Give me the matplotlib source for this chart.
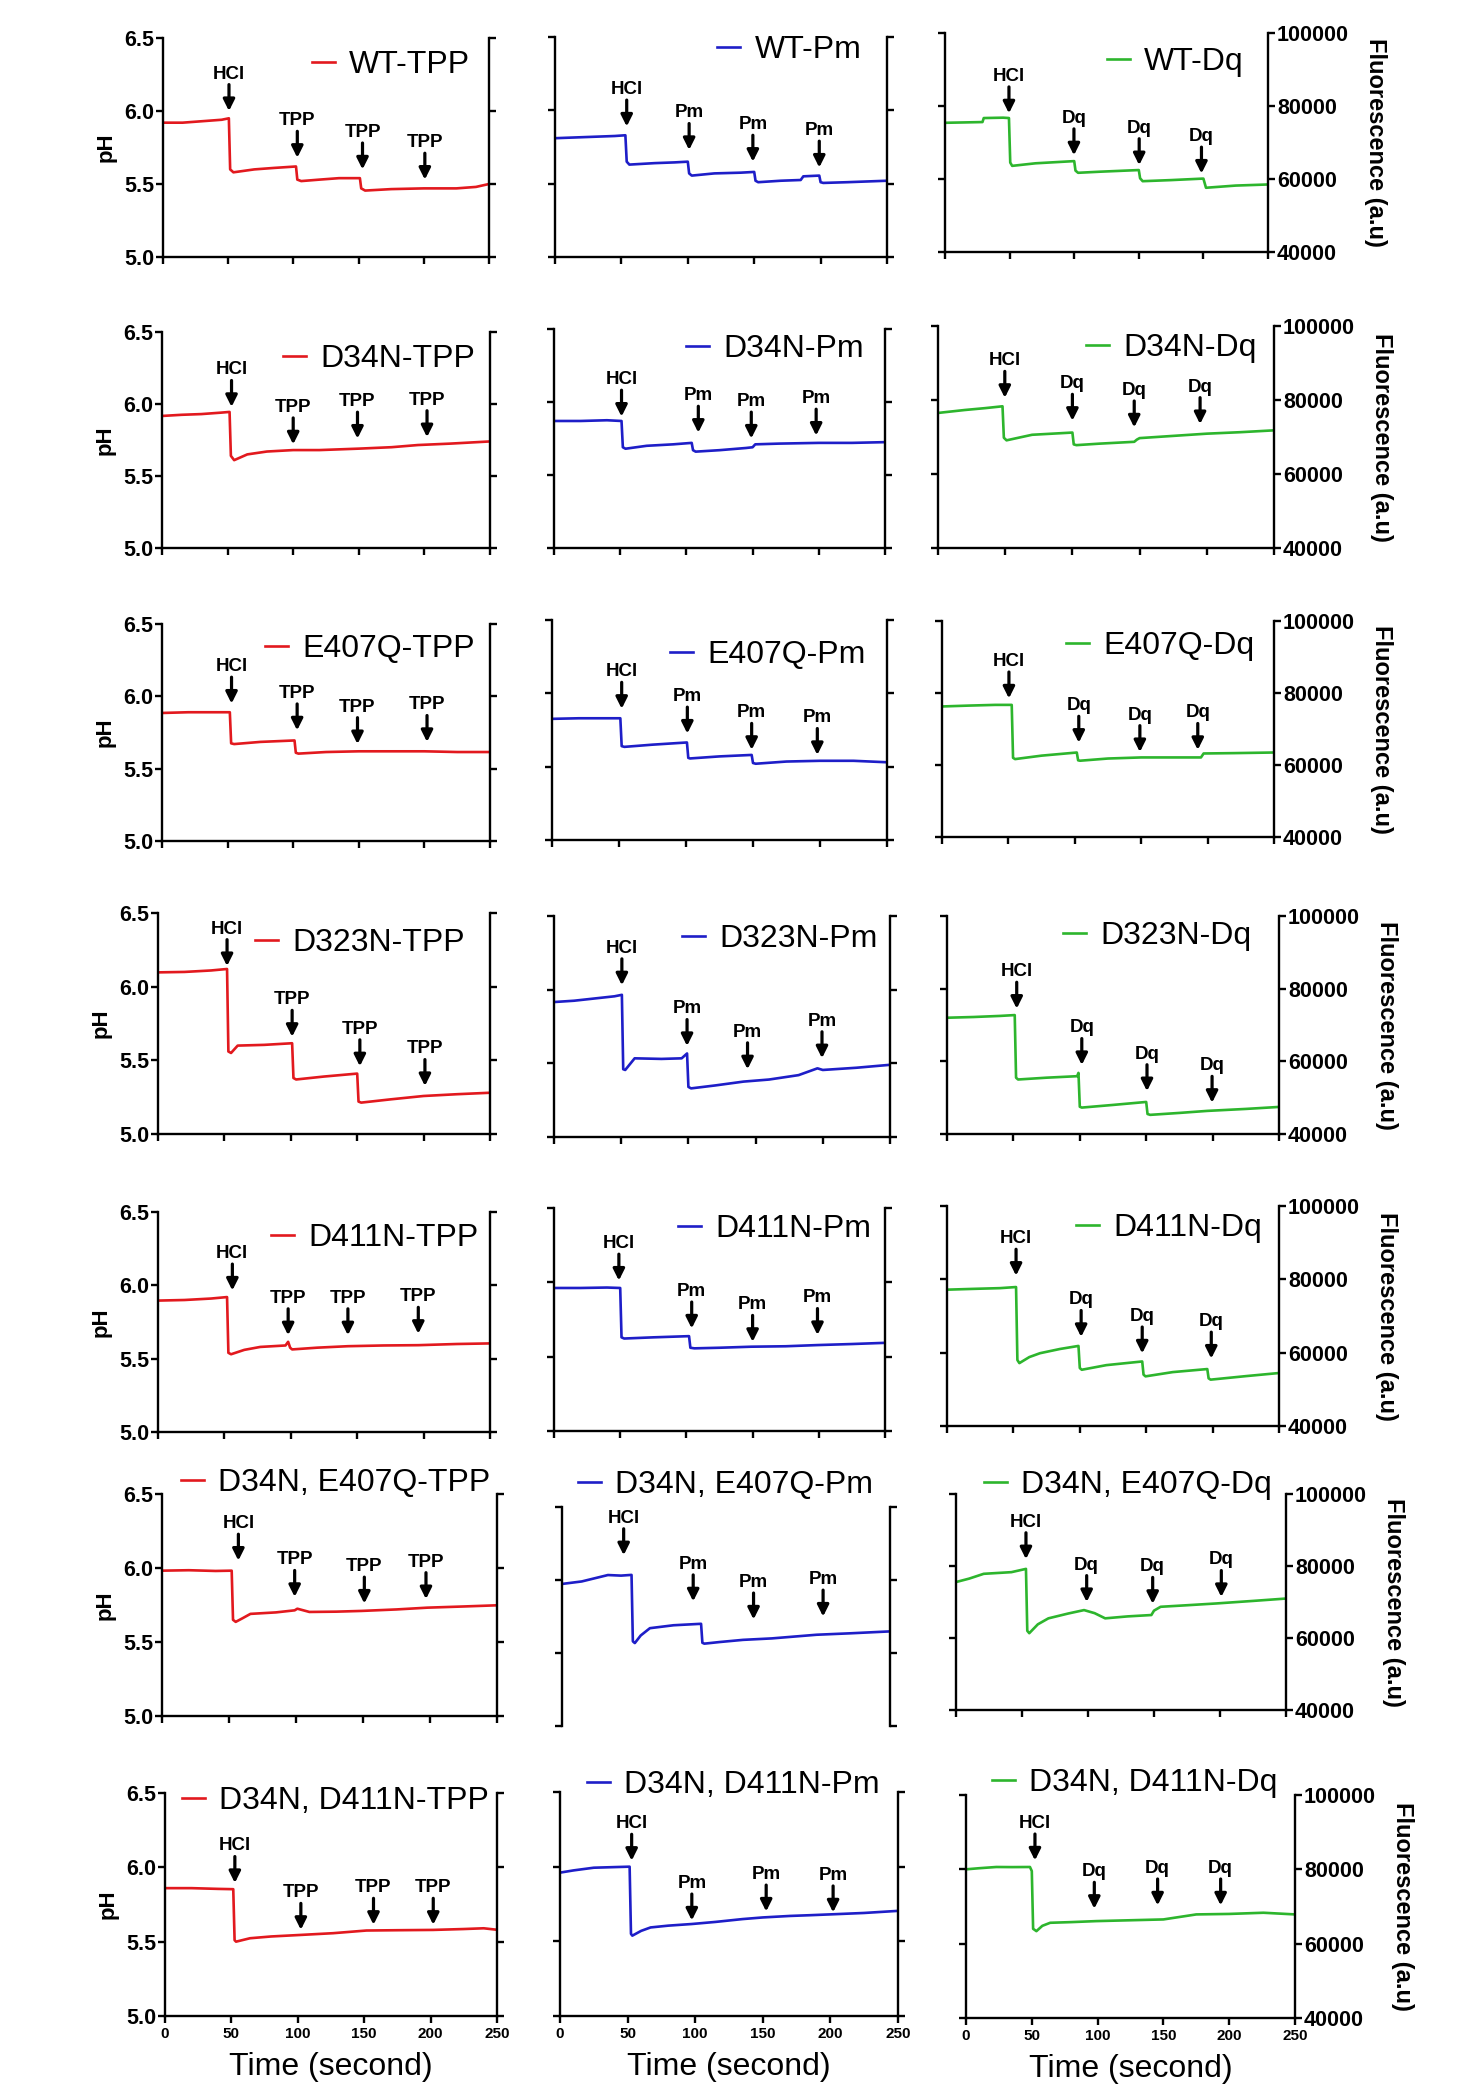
import matplotlib
matplotlib.use('Agg')
import matplotlib.pyplot as plt
from matplotlib.ticker import FormatStrFormatter

plt.rcParams['font.family'] = ['Liberation Sans', 'DejaVu Sans']

# ---------------- data ----------------
time_ticks = [0, 50, 100, 150, 200, 250]
ph_ticks = [5.0, 5.5, 6.0, 6.5]
fl_ticks = [40000, 60000, 80000, 100000]

# Row 1: WT
t_wt_tpp = [0, 15, 30, 45, 50.5, 51.5, 54, 70, 85, 102, 103, 106, 120, 135, 151, 152, 155, 175, 200, 225, 240, 250]
v_wt_tpp = [5.92, 5.92, 5.93, 5.94, 5.95, 5.60, 5.58, 5.60, 5.61, 5.62, 5.53, 5.52, 5.53, 5.54, 5.54, 5.47, 5.455, 5.465, 5.47, 5.47, 5.48, 5.50]
t_wt_pm = [0, 15, 30, 45, 53, 54, 56, 75, 90, 100, 101, 103, 120, 140, 150, 151, 153, 170, 185, 187, 199, 200, 202, 220, 250]
v_wt_pm = [5.81, 5.815, 5.82, 5.825, 5.83, 5.65, 5.63, 5.64, 5.645, 5.65, 5.57, 5.555, 5.57, 5.575, 5.58, 5.52, 5.51, 5.52, 5.525, 5.55, 5.555, 5.51, 5.505, 5.51, 5.52]
t_wt_dq = [0, 15, 29, 30, 45, 49.5, 50.5, 52, 70, 90, 100, 101, 103, 120, 140, 150, 151, 153, 175, 199, 200, 202, 225, 250]
v_wt_dq = [75400, 75500, 75600, 76700, 76800, 76700, 64500, 63600, 64300, 64700, 64900, 62300, 61700, 62000, 62300, 62450, 60200, 59400, 59700, 60100, 60100, 57600, 58200, 58500]

# Row 2: D34N
t_d34n_tpp = [0, 15, 30, 45, 51.5, 52.5, 55, 65, 80, 100, 120, 150, 175, 195, 220, 250]
v_d34n_tpp = [5.917, 5.925, 5.93, 5.94, 5.945, 5.64, 5.61, 5.65, 5.67, 5.68, 5.68, 5.69, 5.70, 5.715, 5.725, 5.74]
t_d34n_pm = [0, 20, 40, 51, 52, 54, 70, 90, 104, 105, 107, 125, 145, 150, 152, 170, 200, 225, 250]
v_d34n_pm = [5.87, 5.87, 5.875, 5.87, 5.69, 5.68, 5.70, 5.71, 5.72, 5.67, 5.66, 5.67, 5.685, 5.69, 5.71, 5.715, 5.72, 5.72, 5.725]
t_d34n_dq = [0, 20, 35, 48, 49, 51, 70, 90, 100, 101, 103, 120, 146, 148, 150, 175, 200, 225, 250]
v_d34n_dq = [76500, 77300, 77800, 78300, 69800, 69100, 70600, 71000, 71200, 68000, 67800, 68200, 68700, 69300, 69700, 70300, 70900, 71300, 71800]

# Row 3: E407Q
t_e407q_tpp = [0, 20, 40, 51.7, 52.7, 55, 75, 101, 102, 104, 125, 150, 175, 200, 225, 250]
v_e407q_tpp = [5.885, 5.89, 5.89, 5.89, 5.675, 5.67, 5.685, 5.695, 5.61, 5.604, 5.615, 5.62, 5.62, 5.62, 5.615, 5.615]
t_e407q_pm = [0, 20, 40, 51, 52, 54, 75, 100.7, 101.7, 103, 125, 149, 150, 152, 175, 200, 225, 250]
v_e407q_pm = [5.826, 5.83, 5.83, 5.83, 5.64, 5.635, 5.65, 5.665, 5.56, 5.556, 5.57, 5.58, 5.525, 5.52, 5.535, 5.54, 5.54, 5.53]
t_e407q_dq = [0, 20, 40, 52.5, 53.5, 55, 75, 101.5, 102.5, 104, 125, 150, 175, 195, 197, 220, 250]
v_e407q_dq = [76260, 76500, 76700, 76700, 62000, 61640, 62600, 63470, 61300, 61190, 61800, 62100, 62100, 62100, 63200, 63300, 63470]

# Row 4: D323N
t_d323n_tpp = [0, 20, 40, 52, 53, 55, 60, 80, 101, 102, 104, 125, 150, 151, 153, 175, 200, 225, 250]
v_d323n_tpp = [6.097, 6.10, 6.11, 6.12, 5.56, 5.55, 5.60, 5.605, 5.616, 5.38, 5.37, 5.39, 5.41, 5.22, 5.213, 5.235, 5.258, 5.27, 5.28]
t_d323n_pm = [0, 15, 30, 45, 50.5, 51.5, 53, 60, 80, 95, 99, 100, 102, 120, 141, 160, 182, 196, 200, 225, 250]
v_d323n_pm = [5.916, 5.925, 5.94, 5.955, 5.965, 5.46, 5.455, 5.534, 5.53, 5.534, 5.567, 5.34, 5.33, 5.35, 5.376, 5.39, 5.42, 5.466, 5.455, 5.47, 5.49]
t_d323n_dq = [0, 20, 40, 51, 52, 53.5, 75, 98, 99, 100, 101.5, 125, 150, 151, 153, 175, 196, 225, 250]
v_d323n_dq = [72000, 72200, 72500, 72730, 55500, 55000, 55500, 55910, 56820, 47500, 47270, 48000, 48820, 45500, 45270, 45800, 46360, 46900, 47450]

# Row 5: D411N
t_d411n_tpp = [0, 20, 40, 52, 53, 55, 65, 77, 96, 98, 99.5, 101, 120, 143, 170, 196, 225, 250]
v_d411n_tpp = [5.896, 5.90, 5.91, 5.92, 5.54, 5.53, 5.56, 5.58, 5.59, 5.615, 5.575, 5.563, 5.575, 5.585, 5.59, 5.592, 5.60, 5.604]
t_d411n_pm = [0, 20, 40, 50, 51, 53, 75, 102, 103, 106, 125, 149, 175, 199, 225, 250]
v_d411n_pm = [5.962, 5.962, 5.965, 5.962, 5.63, 5.622, 5.63, 5.638, 5.56, 5.556, 5.56, 5.567, 5.57, 5.578, 5.585, 5.593]
t_d411n_dq = [0, 20, 40, 52, 53, 54.5, 62, 70, 85, 99, 100, 101.5, 120, 147, 148, 149.5, 170, 196, 197, 198.5, 225, 250]
v_d411n_dq = [77180, 77400, 77600, 77900, 58000, 57150, 58800, 59850, 61000, 61840, 55800, 55340, 56600, 57600, 54000, 53540, 54700, 55530, 53000, 52640, 53600, 54450]

# Row 6: D34N, E407Q
t_de_tpp = [0, 20, 40, 52, 53, 55, 60, 66, 85, 99, 101, 110, 130, 149, 175, 198, 225, 250]
v_de_tpp = [5.982, 5.985, 5.98, 5.982, 5.65, 5.636, 5.66, 5.69, 5.70, 5.714, 5.725, 5.703, 5.705, 5.71, 5.72, 5.732, 5.74, 5.748]
t_de_pm = [0, 15, 35, 45, 53, 54, 55.5, 60, 67, 85, 106, 107, 108.5, 120, 138, 160, 194, 220, 250]
v_de_pm = [5.973, 5.99, 6.034, 6.03, 6.035, 5.58, 5.568, 5.62, 5.67, 5.69, 5.70, 5.57, 5.564, 5.575, 5.59, 5.60, 5.625, 5.635, 5.648]
t_de_dq = [0, 10, 21, 42, 53, 54, 55.5, 62, 70, 85, 97, 105, 113, 130, 148, 150, 155, 175, 197, 225, 250]
v_de_dq = [75540, 76500, 77830, 78290, 79200, 62000, 61340, 63800, 65460, 66800, 67750, 66900, 65460, 66000, 66380, 67600, 68670, 69100, 69590, 70300, 70960]

# Row 7: D34N, D411N
t_dd_tpp = [0, 20, 40, 51.4, 52.4, 53.5, 64, 80, 101.5, 126.6, 151.7, 175, 201.8, 225, 240, 250]
v_dd_tpp = [5.86, 5.86, 5.855, 5.853, 5.51, 5.50, 5.523, 5.535, 5.545, 5.557, 5.575, 5.577, 5.579, 5.585, 5.59, 5.58]
t_dd_pm = [0, 10, 25, 40, 51.5, 52.5, 53.5, 60, 67, 80, 97.5, 115, 135, 150, 170, 185, 204, 225, 250]
v_dd_pm = [5.96, 5.975, 5.993, 5.997, 6.0, 5.55, 5.538, 5.57, 5.593, 5.605, 5.616, 5.63, 5.649, 5.66, 5.67, 5.675, 5.682, 5.69, 5.704]
t_dd_dq = [0, 10, 23, 35, 48.6, 50, 51, 53.5, 58, 64, 80, 99, 125, 150, 175, 200, 226, 250]
v_dd_dq = [80000, 80300, 80630, 80600, 80630, 79540, 64000, 63370, 64800, 65620, 65800, 66070, 66300, 66520, 67870, 68000, 68320, 67870]

# legend names
names = [
    ["WT-TPP", "WT-Pm", "WT-Dq"],
    ["D34N-TPP", "D34N-Pm", "D34N-Dq"],
    ["E407Q-TPP", "E407Q-Pm", "E407Q-Dq"],
    ["D323N-TPP", "D323N-Pm", "D323N-Dq"],
    ["D411N-TPP", "D411N-Pm", "D411N-Dq"],
    ["D34N, E407Q-TPP", "D34N, E407Q-Pm", "D34N, E407Q-Dq"],
    ["D34N, D411N-TPP", "D34N, D411N-Pm", "D34N, D411N-Dq"],
]
traces = [
    [(t_wt_tpp, v_wt_tpp), (t_wt_pm, v_wt_pm), (t_wt_dq, v_wt_dq)],
    [(t_d34n_tpp, v_d34n_tpp), (t_d34n_pm, v_d34n_pm), (t_d34n_dq, v_d34n_dq)],
    [(t_e407q_tpp, v_e407q_tpp), (t_e407q_pm, v_e407q_pm), (t_e407q_dq, v_e407q_dq)],
    [(t_d323n_tpp, v_d323n_tpp), (t_d323n_pm, v_d323n_pm), (t_d323n_dq, v_d323n_dq)],
    [(t_d411n_tpp, v_d411n_tpp), (t_d411n_pm, v_d411n_pm), (t_d411n_dq, v_d411n_dq)],
    [(t_de_tpp, v_de_tpp), (t_de_pm, v_de_pm), (t_de_dq, v_de_dq)],
    [(t_dd_tpp, v_dd_tpp), (t_dd_pm, v_dd_pm), (t_dd_dq, v_dd_dq)],
]

# addition times and arrow tip levels: HCl first, then 3 reagent additions
reagents = ["TPP", "Pm", "Dq"]
add_times = [
    [[50.6, 103, 153, 200.8], [54, 101, 149, 199], [49.5, 99.8, 150.3, 198.5]],
    [[53, 100, 149, 202], [51, 109, 149, 198], [49.7, 100, 146, 195]],
    [[53, 103, 149, 202], [52, 101, 149, 198], [50.4, 103, 149, 192.6]],
    [[52, 101, 152, 201], [50.5, 99, 144, 199.4], [52.5, 101.5, 150.6, 199.6]],
    [[56, 98, 143, 196], [49, 104, 150, 199], [52, 101, 147, 199]],
    [[57, 99, 151, 197], [47, 100, 146, 199], [53, 99, 149, 201]],
    [[52.6, 102.3, 157, 202], [53, 97.5, 152.5, 202], [52.4, 97.5, 145.6, 193.5]],
]
add_tips = [
    [[6.00, 5.68, 5.60, 5.53], [5.89, 5.73, 5.65, 5.61], [78000, 66500, 63800, 61500]],
    [[5.98, 5.72, 5.76, 5.77], [5.90, 5.79, 5.75, 5.77], [80600, 74400, 72600, 73500]],
    [[5.95, 5.765, 5.67, 5.685], [5.895, 5.726, 5.615, 5.58], [78500, 66200, 63600, 64200]],
    [[6.14, 5.66, 5.46, 5.326], [6.03, 5.618, 5.46, 5.535], [74500, 59000, 51800, 48600]],
    [[5.965, 5.66, 5.66, 5.67], [6.012, 5.69, 5.60, 5.646], [81000, 64300, 59800, 58400]],
    [[6.05, 5.805, 5.76, 5.79], [6.17, 5.854, 5.73, 5.75], [81900, 70000, 69500, 71400]],
    [[5.895, 5.58, 5.614, 5.614], [6.04, 5.64, 5.70, 5.694], [82400, 69400, 70300, 70300]],
]

# ---------------- layout (pixel boxes: x0, x1, ytop, ybottom) ----------------
W, H = 1463, 2087
boxes = [
    [(163, 489, 38, 257), (555, 887, 37, 257), (945, 1268, 33, 252)],
    [(162, 490, 332, 548), (554, 885, 329, 548), (938, 1274, 326, 548)],
    [(162, 490, 624, 841), (552, 887, 620, 840), (942, 1274, 621, 837)],
    [(158, 490, 913, 1134), (554, 890, 916, 1137), (947, 1279, 916, 1134)],
    [(158, 490, 1212, 1432), (554, 885, 1208, 1431), (947, 1279, 1206, 1426)],
    [(162, 497, 1494, 1716), (562, 890, 1507, 1726), (956, 1286, 1494, 1710)],
    [(165, 497, 1793, 2016), (560, 898, 1792, 2016), (966, 1295, 1795, 2018)],
]
legend_pos = [
    [(0.457, 0.877), (0.488, 0.94), (0.50, 0.868)],
    [(0.369, 0.875), (0.40, 0.91), (0.44, 0.90)],
    [(0.314, 0.885), (0.352, 0.84), (0.373, 0.884)],
    [(0.292, 0.864), (0.381, 0.896), (0.35, 0.908)],
    [(0.34, 0.88), (0.375, 0.906), (0.39, 0.90)],
    [(0.057, 1.05), (0.049, 1.10), (0.085, 1.04)],
    [(0.05, 0.964), (0.08, 1.03), (0.079, 1.054)],
]
colors = ['#e2191e', '#1e1ec8', '#2db52d']

ARROW_LEN = 19.0   # points
GAP = 1.5

fig = plt.figure(figsize=(W / 100, H / 100), dpi=100)

for r in range(7):
    for c in range(3):
        x0, x1, y0, y1 = boxes[r][c]
        ax = fig.add_axes([x0 / W, 1 - y1 / H, (x1 - x0) / W, (y1 - y0) / H])
        t, v = traces[r][c]
        ax.plot(t, v, color=colors[c], lw=1.9, label=names[r][c])
        ax.set_xlim(0, 250)
        ax.set_xticks(time_ticks)
        if c < 2:
            ax.set_ylim(5.0, 6.5)
            ax.set_yticks(ph_ticks)
            ax.yaxis.set_major_formatter(FormatStrFormatter('%.1f'))
        else:
            ax.set_ylim(40000, 100000)
            ax.set_yticks(fl_ticks)
            ax.set_yticklabels([str(f) for f in fl_ticks])
        for s in ['left', 'right', 'bottom']:
            ax.spines[s].set_linewidth(1.7)
        ax.spines['top'].set_visible(False)
        ax.tick_params(axis='both', direction='out', length=5, width=1.7)
        ax.tick_params(axis='y', left=True, right=True,
                       labelleft=(c == 0), labelright=(c == 2),
                       labelsize=15.5, pad=1.5)
        for lab in ax.get_yticklabels():
            lab.set_fontweight('bold')
        if c == 2:
            ax.yaxis.set_label_position('right')
            ax.set_ylabel('Fluorescence (a.u)', rotation=270, fontsize=17,
                          fontweight='bold', labelpad=27)
        if c == 0:
            ax.set_ylabel('pH', fontsize=16, fontweight='bold', labelpad=5)
        if r == 6:
            ax.tick_params(axis='x', labelbottom=True, labelsize=11, pad=3)
            for lab in ax.get_xticklabels():
                lab.set_fontweight('bold')
            ax.set_xlabel('Time (second)', fontsize=23, labelpad=8)
        else:
            ax.tick_params(axis='x', labelbottom=False)
        if r == 5 and c == 1:
            ax.spines['bottom'].set_visible(False)
            ax.tick_params(axis='x', bottom=False)

        # additions
        labels = ["HCl"] + [reagents[c]] * 3
        for lab, ta, tip in zip(labels, add_times[r][c], add_tips[r][c]):
            ax.annotate('', xy=(ta, tip), xytext=(0, ARROW_LEN), textcoords='offset points',
                        arrowprops=dict(arrowstyle='-|>', color='black', lw=2.3,
                                        mutation_scale=17, shrinkA=0, shrinkB=0),
                        annotation_clip=False)
            ax.annotate(lab, xy=(ta, tip), xytext=(0, ARROW_LEN + GAP),
                        textcoords='offset points', ha='center', va='bottom',
                        fontsize=13.5, fontweight='bold', annotation_clip=False)

        lx, ly = legend_pos[r][c]
        ax.legend(loc='center left', bbox_to_anchor=(lx, ly), frameon=False,
                  fontsize=23, handlelength=0.72, handletextpad=0.45,
                  borderpad=0, borderaxespad=0)

fig.savefig('out.png', dpi=100)
